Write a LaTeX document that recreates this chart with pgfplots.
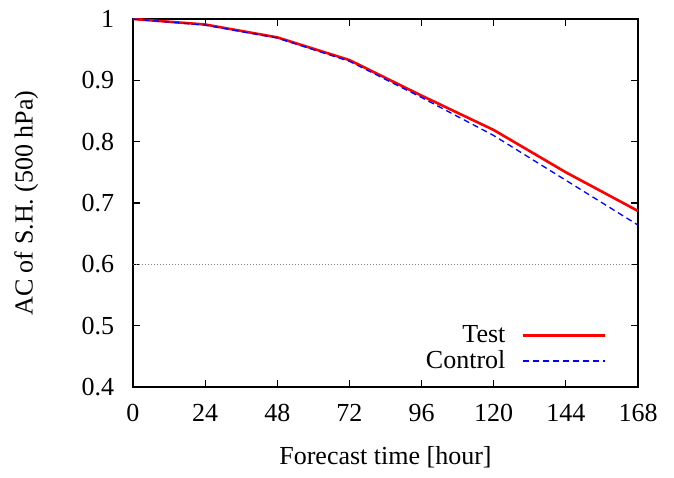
\documentclass[border=0pt]{standalone}
\usepackage{fontspec}
\setmainfont{Liberation Serif}
\usepackage{pgfplots}
\pgfplotsset{compat=1.18}
\begin{document}
\fontsize{26}{30}\selectfont
\begin{tikzpicture}
\begin{axis}[
  scale only axis,
  width=505pt, height=368pt,
  xmin=0, xmax=168, ymin=0.4, ymax=1,
  xtick={0,24,48,72,96,120,144,168},
  ytick={0.4,0.5,0.6,0.7,0.8,0.9,1},
  yticklabels={0.4,0.5,0.6,0.7,0.8,0.9,1},
  tick align=inside,
  major tick length=7pt,
  axis line style={line width=1.2pt},
  every tick/.style={black, line width=1.2pt},
  /pgf/number format/assume math mode=true,
  tick label style={font=\fontsize{26}{30}\selectfont},
  label style={font=\fontsize{26}{30}\selectfont},
  xlabel={Forecast time [hour]},
  ylabel={AC of S.H. (500 hPa)},
  xticklabel style={yshift=-8pt},
  yticklabel style={xshift=-10pt},
  xlabel style={yshift=-8pt},
  ylabel style={yshift=26pt},
  legend style={draw=none, fill=none, at={(0.937,0.035)}, anchor=south east,
    font=\fontsize{26}{30}\selectfont, row sep=0pt, inner sep=0pt},
  legend cell align=right,
  legend plot pos=right,
  legend image code/.code={\path (0pt,0pt); \draw[#1] (14pt,0pt) -- (96pt,0pt);},
]
\addplot[gray, dotted, line width=1pt, forget plot] coordinates {(0,0.6) (166,0.6)};
\addplot[red, line width=2.6pt] coordinates {
(0,1.0) (24,0.991) (48,0.970) (72,0.933) (96,0.875) (120,0.819) (144,0.750) (168,0.687)};
\addlegendentry{Test}
\addplot[blue, dashed, line width=1.3pt, dash pattern=on 6pt off 4pt] coordinates {
(0,1.0) (24,0.990) (48,0.969) (72,0.931) (96,0.872) (120,0.810) (144,0.737) (168,0.664)};
\addlegendentry{Control}
\end{axis}
\path (current axis.south west) ++(-133pt,-78pt) coordinate (bl);
\path (current axis.north east) ++(36pt,19pt) coordinate (tr);
\path (bl) (tr);
\end{tikzpicture}
\end{document}
